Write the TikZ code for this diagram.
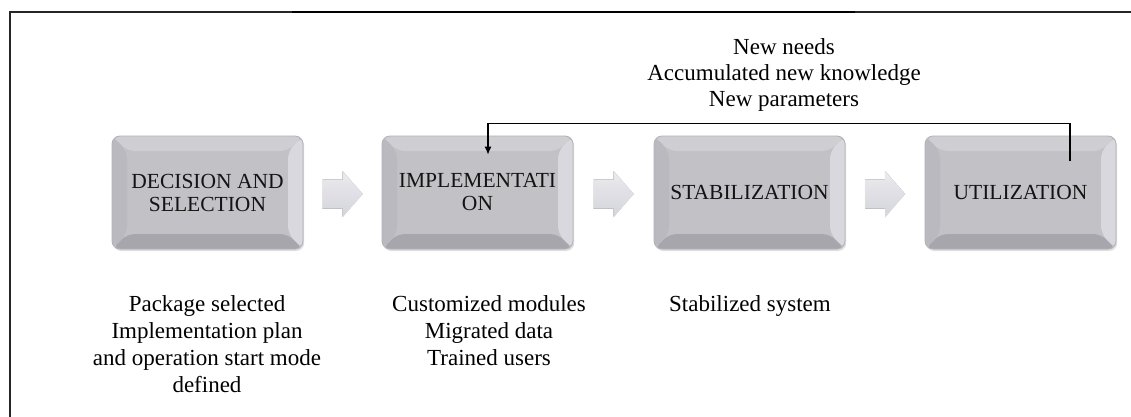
\documentclass[tikz,border=0pt]{standalone}
\usepackage{fontspec}
\setmainfont{Liberation Serif}
\usetikzlibrary{calc,shadows,arrows.meta}
\definecolor{boxface}{RGB}{193,193,198}
\definecolor{bevtop}{RGB}{206,206,211}
\definecolor{bevleft}{RGB}{185,185,191}
\definecolor{bevbottom}{RGB}{166,166,172}
\definecolor{bevright}{RGB}{216,216,222}
\definecolor{boxborder}{RGB}{178,178,184}
\definecolor{arrowtop}{RGB}{234,234,239}
\definecolor{arrowbot}{RGB}{212,212,219}
\begin{document}
\begin{tikzpicture}[x=1pt,y=1pt,
  stage/.style={rectangle, rounded corners=8pt, minimum width=191pt, minimum height=113pt,
    draw=boxborder, line width=0.8pt, fill=boxface, align=center,
    font=\fontsize{21.5}{23}\selectfont, text=black!92,
    drop shadow={opacity=0.25, shadow xshift=1.2pt, shadow yshift=-2pt},
    path picture={
      \path (path picture bounding box.south west) coordinate (pSW)
            (path picture bounding box.north east) coordinate (pNE)
            (pSW |- pNE) coordinate (pNW)
            (pNE |- pSW) coordinate (pSE);
      \fill[bevtop] (pNW) -- (pNE) -- ([shift={(-15pt,-15pt)}]pNE) -- ([shift={(15pt,-15pt)}]pNW) -- cycle;
      \fill[bevbottom] (pSW) -- (pSE) -- ([shift={(-15pt,15pt)}]pSE) -- ([shift={(15pt,15pt)}]pSW) -- cycle;
      \fill[bevleft] (pNW) -- (pSW) -- ([shift={(15pt,15pt)}]pSW) -- ([shift={(15pt,-15pt)}]pNW) -- cycle;
      \fill[bevright] (pNE) -- (pSE) -- ([shift={(-15pt,15pt)}]pSE) -- ([shift={(-15pt,-15pt)}]pNE) -- cycle;
    }},
  blockarrow/.style={top color=arrowtop, bottom color=arrowbot, draw=white!85!gray, line width=0.4pt},
  fb/.style={line width=1.2pt, draw=black, -{Latex[length=8pt,width=7pt]}},
  fbtext/.style={align=center, font=\fontsize{23}{26}\selectfont, inner sep=0pt},
  outtext/.style={align=center, font=\fontsize{23}{27}\selectfont, inner sep=0pt},
  frame/.style={line width=1.2pt, draw=black!85}
]
\useasboundingbox (0,0) rectangle (1131,-417);
\fill[white] (0,0) rectangle (1131,-417);

% frame
\draw[frame] (10,-417) -- (10,-12) -- (1131,-12);
\draw[line width=1.8pt, draw=black] (292,-12) -- (855,-12);

% stages
\node[stage] (d) at (207.5,-192.5) {DECISION AND\\SELECTION};
\node[stage] (i) at (477.5,-192.5) {IMPLEMENTATI\\ON};
\node[stage] (s) at (749.5,-192.5) {STABILIZATION};
\node[stage] (u) at (1020.5,-192.5) {UTILIZATION};

% block arrows between stages
\foreach \a/\b/\n in {d/i/m1, i/s/m2, s/u/m3}{
  \coordinate (\n) at ($(\a.east)!0.5!(\b.west)+(0,-1.5)$);
  \fill[blockarrow] ([shift={(-20pt,-14.5pt)}]\n) -- ([shift={(0pt,-14.5pt)}]\n) -- ([shift={(0pt,-23pt)}]\n)
     -- ([shift={(20pt,0pt)}]\n) -- ([shift={(0pt,23pt)}]\n) -- ([shift={(0pt,14.5pt)}]\n)
     -- ([shift={(-20pt,14.5pt)}]\n) -- cycle;
}

% feedback loop
\coordinate (fbstart) at ($(u.north)+(49.5pt,-25pt)$);
\coordinate (fbend) at ($(i.north)+(10.5pt,-19pt)$);
\draw[fb] (fbstart) -- ++(0,37) -| (fbend);

% texts
\node[fbtext, anchor=north] (fbt) at (784,-38) {New needs\\Accumulated new knowledge\\New parameters};
\node[outtext, anchor=north] (t1) at (207,-295) {Package selected\\Implementation plan\\and operation start mode\\defined};
\node[outtext, anchor=north] (t2) at (489,-295) {Customized modules\\Migrated data\\Trained users};
\node[outtext, anchor=north] (t3) at (750,-295) {Stabilized system};
\end{tikzpicture}
\end{document}
